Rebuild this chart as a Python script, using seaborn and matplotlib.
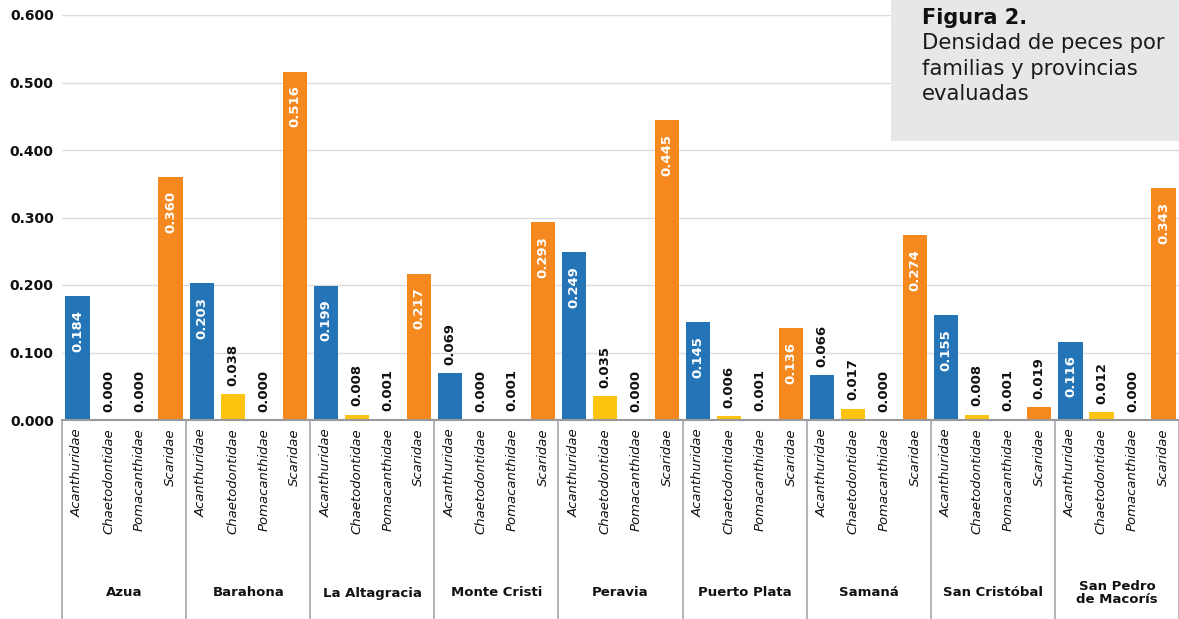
import matplotlib
matplotlib.use("Agg")
import matplotlib.pyplot as plt
from matplotlib.patches import Rectangle
from matplotlib.transforms import blended_transform_factory
import seaborn as sns
import pandas as pd

# Fish density (individuals per m²) by family and province
provinces = ["Azua", "Barahona", "La Altagracia", "Monte Cristi", "Peravia",
             "Puerto Plata", "Samaná", "San Cristóbal", "San Pedro\nde Macorís"]
families = ["Acanthuridae", "Chaetodontidae", "Pomacanthidae", "Scaridae"]

acanthuridae = [0.184, 0.203, 0.199, 0.069, 0.249, 0.145, 0.066, 0.155, 0.116]
chaetodontidae = [0.000, 0.038, 0.008, 0.000, 0.035, 0.006, 0.017, 0.008, 0.012]
pomacanthidae = [0.000, 0.000, 0.001, 0.001, 0.000, 0.001, 0.000, 0.001, 0.000]
scaridae = [0.360, 0.516, 0.217, 0.293, 0.445, 0.136, 0.274, 0.019, 0.343]

yticks = [0.0, 0.1, 0.2, 0.3, 0.4, 0.5, 0.6]

colors = {"Acanthuridae": "#2474b8", "Chaetodontidae": "#fdc40f",
          "Pomacanthidae": "#9a9a9a", "Scaridae": "#f5881f"}

series = [acanthuridae, chaetodontidae, pomacanthidae, scaridae]
rows = []
for p_i, prov in enumerate(provinces):
    for f_i, fam in enumerate(families):
        rows.append({"key": f"{p_i}-{fam}", "province": prov, "family": fam,
                     "value": series[f_i][p_i]})
df = pd.DataFrame(rows)
order = list(df["key"])

sns.set_theme(style="white")
plt.rcParams["font.family"] = ["DejaVu Sans"]

W, H = 1179, 619
fig = plt.figure(figsize=(W / 100, H / 100), dpi=100)
ax_left, ax_right, ax_top, ax_bottom = 62, 1179, 15, 420
ax = fig.add_axes([ax_left / W, (H - ax_bottom) / H,
                   (ax_right - ax_left) / W, (ax_bottom - ax_top) / H])

sns.barplot(data=df, x="key", y="value", hue="family", order=order,
            palette=colors, dodge=False, width=0.78, legend=False,
            saturation=1, linewidth=0, ax=ax)

ax.set_xlim(-0.5, len(order) - 0.5)
ax.set_ylim(0, 0.6)
ax.set_yticks(yticks)
ax.set_yticklabels([f"{t:.3f}" for t in yticks], fontweight="bold",
                   fontsize=10, color="#111111")
ax.yaxis.grid(True, color="#dcdcdc", linewidth=1)
ax.set_axisbelow(True)
ax.tick_params(axis="y", length=0, pad=6)
ax.tick_params(axis="x", length=0, pad=6)
ax.set_xticks(range(len(order)))
ax.set_xticklabels(list(df["family"]), rotation=90, fontstyle="italic",
                   fontsize=9.5, color="#111111", va="top", ha="center")
ax.set_xlabel("")
ax.set_ylabel("")
for s in ("left", "top", "right"):
    ax.spines[s].set_visible(False)
ax.spines["bottom"].set_color("#999999")
ax.spines["bottom"].set_linewidth(1.5)

# Value labels: white inside tall bars, black above short ones
for i, v in enumerate(df["value"]):
    if v >= 0.1:
        ax.annotate(f"{v:.3f}", (i, v), xytext=(0, -10), textcoords="offset points",
                    rotation=90, ha="center", va="top", color="white",
                    fontweight="bold", fontsize=9.5)
    else:
        ax.annotate(f"{v:.3f}", (i, v), xytext=(0, 6), textcoords="offset points",
                    rotation=90, ha="center", va="bottom", color="#111111",
                    fontweight="bold", fontsize=9.5)

# Province group labels and separators beneath the axis
trans = blended_transform_factory(ax.transData, fig.transFigure)
n_fam = len(families)
for p_i, prov in enumerate(provinces):
    center = p_i * n_fam + (n_fam - 1) / 2
    ax.text(center, (H - 593) / H, prov, transform=trans, ha="center",
            va="center", multialignment="center", fontweight="bold",
            fontsize=9.5, color="#111111", linespacing=1.0)
for p_i in range(len(provinces) + 1):
    xb = p_i * n_fam - 0.5
    ax.plot([xb, xb], [(H - ax_bottom) / H, 0], transform=trans,
            color="#a8a8a8", linewidth=1.2, clip_on=False)

# Caption panel
box_x0, box_y1 = 891, 141
fig.patches.append(Rectangle((box_x0 / W, 1 - box_y1 / H), 1 - box_x0 / W,
                             box_y1 / H, transform=fig.transFigure,
                             facecolor="#e6e7e9", edgecolor="none", zorder=5))
fig.text(922 / W, 1 - 18 / H, "Figura 2.", fontweight="bold", fontsize=15,
         color="#111111", va="center", ha="left", zorder=6)
fig.text(922 / W, 1 - 33 / H,
         "Densidad de peces por\nfamilias y provincias\nevaluadas",
         fontsize=15.2, color="#1a1a1a", va="top", ha="left", linespacing=1.35,
         zorder=6)

fig.savefig("out.png", dpi=100, facecolor="white")
